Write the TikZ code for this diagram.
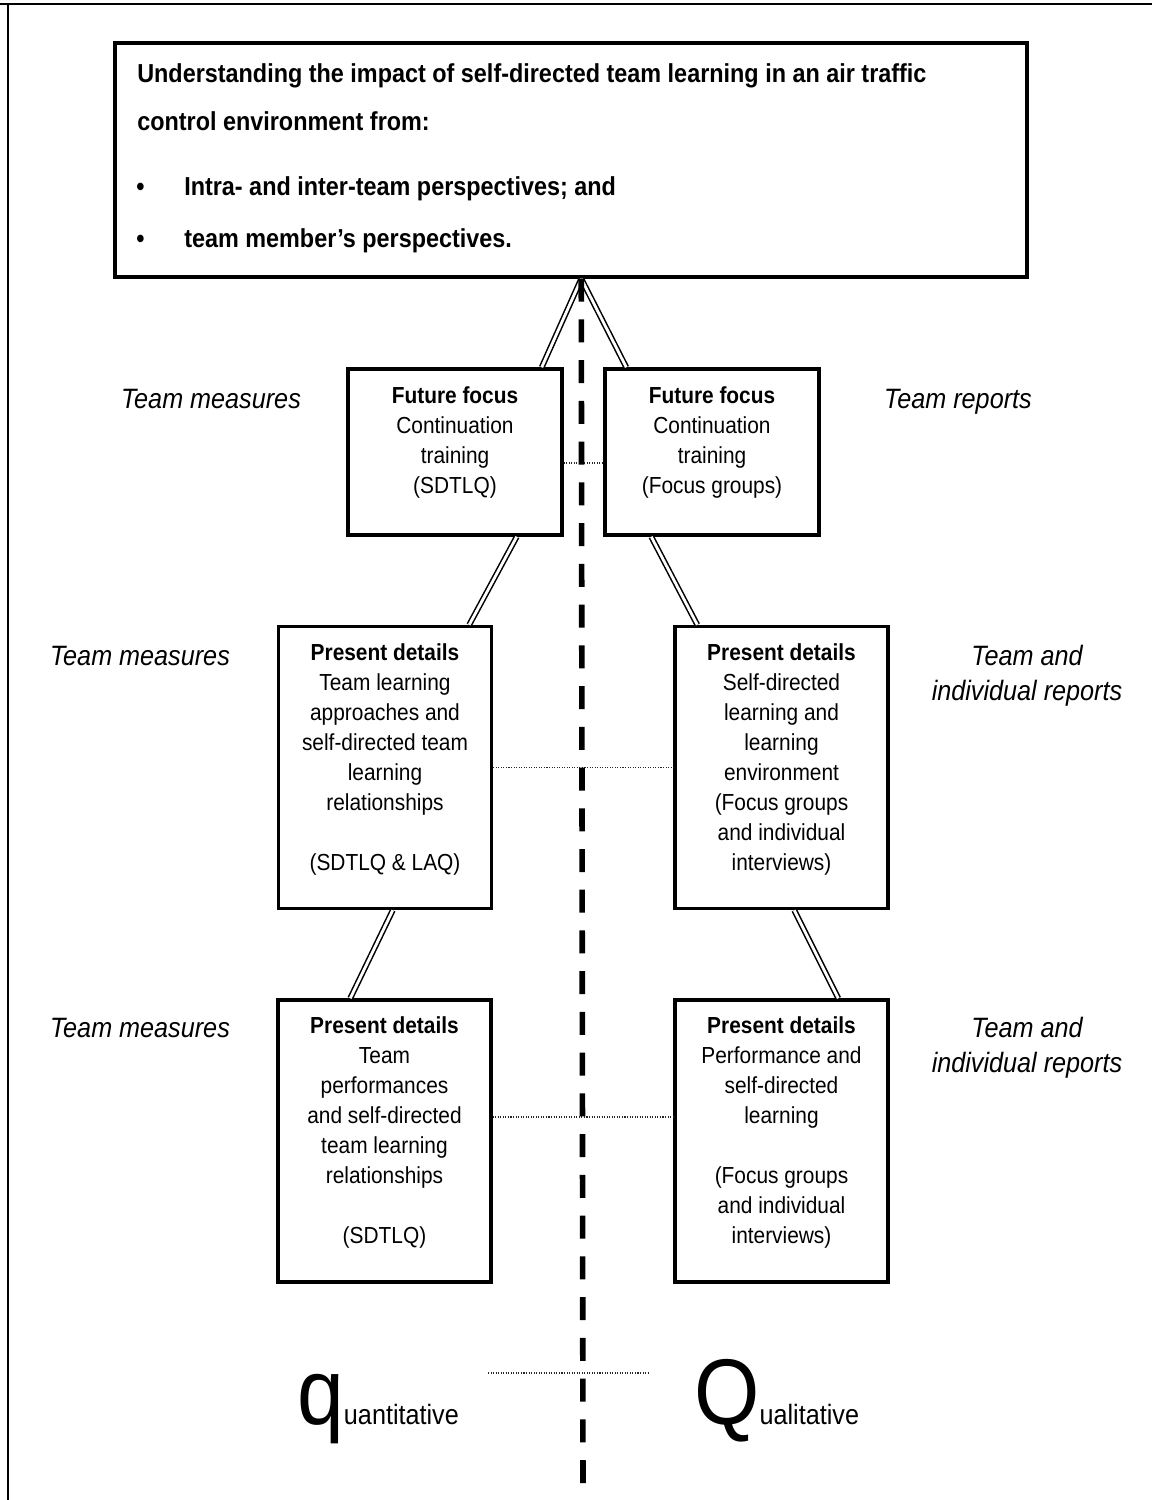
\documentclass[tikz,border=0pt]{standalone}
\usepackage{fontspec}
\setmainfont{Liberation Sans}[FakeStretch=0.9]
\usetikzlibrary{calc}
\begin{document}
\begin{tikzpicture}[x=0.75pt,y=-0.75pt,
  bx/.style n args={2}{draw, line width=2.6pt, minimum width=#1, minimum height=#2, inner sep=0pt},
  dbl/.style={draw, line width=1.15pt, double=white, double distance=2.1pt},
  dots/.style={draw=black!85, line width=0.8pt, dash pattern=on 0.8pt off 1.1pt},
  mid/.style={draw, line width=4.2pt, dash pattern=on 17.25pt off 13.3pt},
  frame/.style={draw, line width=1.75pt},
  boxtxt/.style={font=\fontsize{17.4}{22.5}\selectfont, align=center, anchor=north, inner sep=0pt},
  lbl/.style={font=\fontsize{21}{26.25}\selectfont\itshape, align=center, anchor=north, inner sep=0pt},
  toptxt/.style={font=\fontsize{19.5}{24}\selectfont\bfseries, anchor=base west, inner sep=0pt},
  bigtxt/.style={anchor=base west, inner sep=0pt}
]
\useasboundingbox (0,0) rectangle (1152,1500);

% outer frame (top and left edges)
\coordinate (ftl) at (0,3.8);
\coordinate (ftr) at (1152,3.8);
\coordinate (flt) at (7.8,3.8);
\coordinate (flb) at (7.8,1500);
\draw[frame] (ftl) -- (ftr);
\draw[frame] (flt) -- (flb);

% top box
\node[bx={684pt}{175.5pt}] (top) at (571,160) {};
\node[toptxt] (t1) at (137,82) {Understanding the impact of self-directed team learning in an air traffic};
\node[toptxt] (t2) at (137,130) {control environment from:};
\node[toptxt] (bu1) at (136,195) {•};
\node[toptxt] (t3) at (184,195) {Intra- and inter-team perspectives; and};
\node[toptxt] (bu2) at (136,247) {•};
\node[toptxt] (t4) at (184,247) {team member’s perspectives.};

% boxes
\node[bx={160.5pt}{124.5pt}] (b1l) at (455,452) {};
\node[bx={160.5pt}{124.5pt}] (b1r) at (712,452) {};
\node[bx={159.75pt}{211.5pt}] (b2l) at (385,767.5) {};
\node[bx={159.75pt}{211.5pt}] (b2r) at (781.5,767.5) {};
\node[bx={159.75pt}{211.5pt}] (b3l) at (384.5,1141) {};
\node[bx={159.75pt}{211.5pt}] (b3r) at (781.5,1141) {};

% box texts
\node[boxtxt] (x1l) at ($(b1l.north)+(0,15)$) {\strut\textbf{Future focus}\\Continuation\\training\\(SDTLQ)};
\node[boxtxt] (x1r) at ($(b1r.north)+(0,15)$) {\strut\textbf{Future focus}\\Continuation\\training\\(Focus groups)};
\node[boxtxt] (x2l) at ($(b2l.north)+(0,14)$) {\strut\textbf{Present details}\\Team learning\\approaches and\\self-directed team\\learning\\relationships\\~\\(SDTLQ \& LAQ)};
\node[boxtxt] (x2r) at ($(b2r.north)+(0,14)$) {\strut\textbf{Present details}\\Self-directed\\learning and\\learning\\environment\\(Focus groups\\and individual\\interviews)};
\node[boxtxt] (x3l) at ($(b3l.north)+(0,14)$) {\strut\textbf{Present details}\\Team\\performances\\and self-directed\\team learning\\relationships\\~\\(SDTLQ)};
\node[boxtxt] (x3r) at ($(b3r.north)+(0,14)$) {\strut\textbf{Present details}\\Performance and\\self-directed\\learning\\~\\(Focus groups\\and individual\\interviews)};

% side labels
\node[lbl] (l1) at (211,383.5) {\strut Team measures};
\node[lbl] (l2) at (140,640.5) {\strut Team measures};
\node[lbl] (l3) at (140,1012.5) {\strut Team measures};
\node[lbl] (r1) at (958,383.5) {\strut Team reports};
\node[lbl] (r2) at (1027,640.5) {\strut Team and\\individual reports};
\node[lbl] (r3) at (1027,1012.5) {\strut Team and\\individual reports};

% double connectors
\coordinate (apex) at ($(top.south west)+(468,0)$);
\draw[dbl] (apex) -- ($(b1l.north east)+(-22,0)$);
\draw[dbl] (apex) -- ($(b1r.north west)+(23,0)$);
\draw[dbl] ($(b1l.south east)+(-47,0)$) -- ($(b2l.north east)+(-24,0)$);
\draw[dbl] ($(b1r.south west)+(48,0)$) -- ($(b2r.north west)+(24,0)$);
\draw[dbl] ($(b2l.south west)+(116,0)$) -- ($(b3l.north west)+(74,0)$);
\draw[dbl] ($(b2r.south west)+(121,0)$) -- ($(b3r.north west)+(165,0)$);

% dotted connectors
\draw[dots] ($(b1l.east)+(0,11)$) -- ($(b1r.west)+(0,11)$);
\draw[dots] (b2l.east) -- (b2r.west);
\draw[dots] ($(b3l.east)+(0,-24)$) -- ($(b3r.west)+(0,-24)$);
\coordinate (dq1) at (488,1373);
\coordinate (dq2) at (650,1373);
\draw[dots] (dq1) -- (dq2);

% central dashed divider
\coordinate (dend) at (583,1500);
\draw[mid] (apex) -- (dend);

% bottom words
\node[bigtxt] (quan) at (297,1424) {{\fontsize{70}{84}\selectfont q}{\fontsize{21}{25}\selectfont uantitative}};
\node[bigtxt] (qual) at (694,1424) {{\fontsize{70}{84}\selectfont Q}{\fontsize{21}{25}\selectfont ualitative}};
\end{tikzpicture}
\end{document}
